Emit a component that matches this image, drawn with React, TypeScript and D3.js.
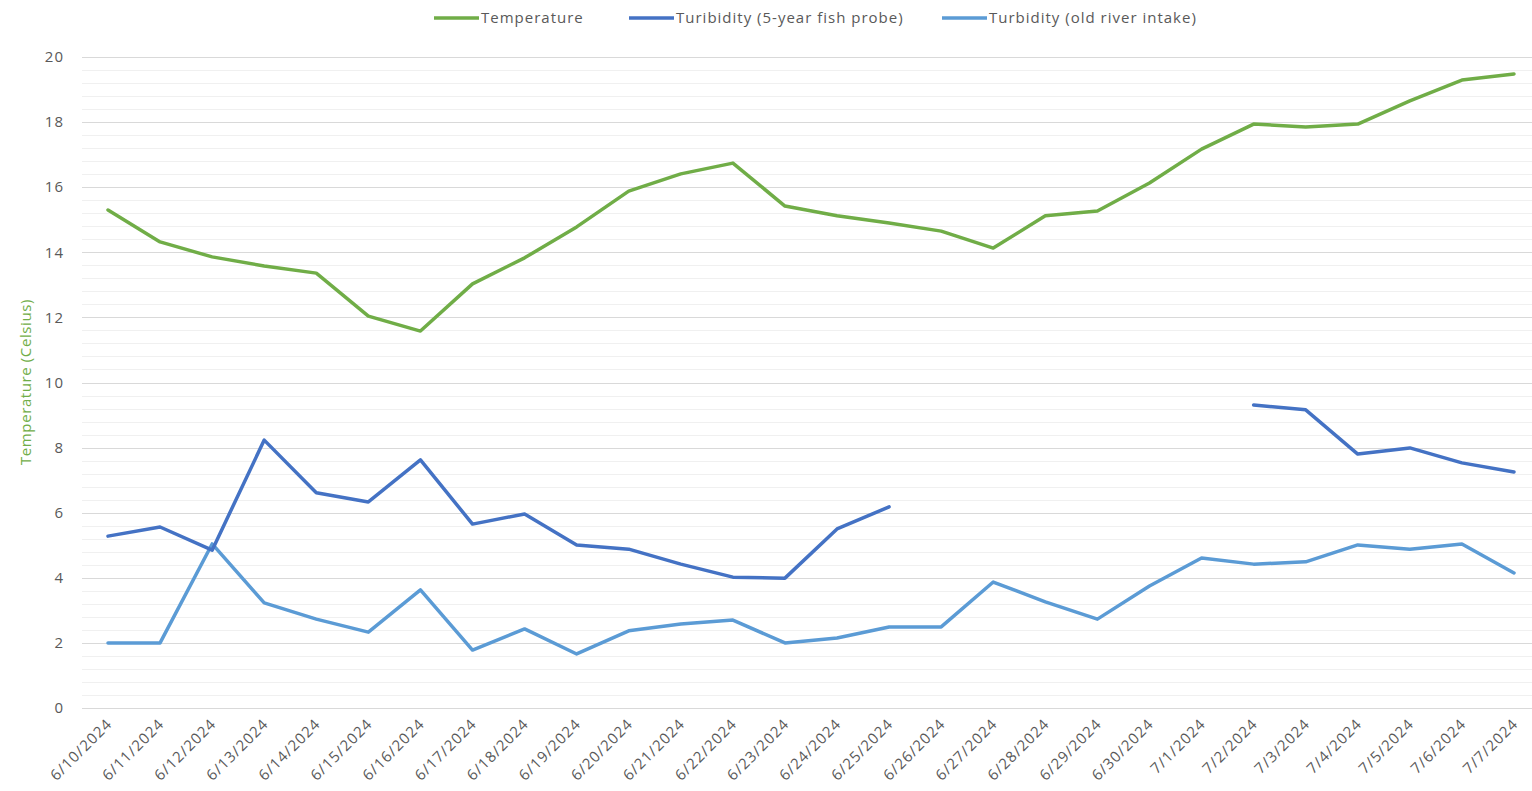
import * as d3 from "d3";
import { useEffect, useRef } from "react";

const dates = [
  "6/10/2024", "6/11/2024", "6/12/2024", "6/13/2024", "6/14/2024", "6/15/2024", "6/16/2024",
  "6/17/2024", "6/18/2024", "6/19/2024", "6/20/2024", "6/21/2024", "6/22/2024", "6/23/2024",
  "6/24/2024", "6/25/2024", "6/26/2024", "6/27/2024", "6/28/2024", "6/29/2024", "6/30/2024",
  "7/1/2024", "7/2/2024", "7/3/2024", "7/4/2024", "7/5/2024", "7/6/2024", "7/7/2024",
];

const temperature = [
  15.3, 14.32, 13.86, 13.58, 13.36, 12.04, 11.58, 13.03, 13.83, 14.78, 15.88, 16.41, 16.74, 15.42,
  15.12, 14.9, 14.65, 14.13, 15.12, 15.27, 16.13, 17.17, 17.94, 17.85, 17.94, 18.65, 19.29, 19.48,
];

const turbidityProbe: (number | null)[] = [
  5.28, 5.56, 4.85, 8.23, 6.61, 6.33, 7.62, 5.65, 5.96, 5.01, 4.88, 4.42, 4.02, 3.99,
  5.5, 6.18, null, null, null, null, null, null, 9.31, 9.16, 7.8, 7.99, 7.53, 7.25,
];

const turbidityIntake = [
  2.0, 2.0, 5.04, 3.23, 2.73, 2.33, 3.63, 1.78, 2.43, 1.66, 2.37, 2.58, 2.7, 2.0,
  2.15, 2.49, 2.49, 3.87, 3.26, 2.73, 3.75, 4.61, 4.42, 4.49, 5.01, 4.88, 5.04, 4.15,
];

const seriesNames = ["Temperature", "Turibidity (5-year fish probe)", "Turbidity (old river intake)"];
const seriesColors = ["#70AD47", "#4472C4", "#5B9BD5"];
const yTicks = [0, 2, 4, 6, 8, 10, 12, 14, 16, 18, 20];

const W = 1532, H = 791;
const FONT = "'Open Sans', Lato, sans-serif";

const App = () => {
  const ref = useRef<SVGSVGElement | null>(null);

  useEffect(() => {
    if (!ref.current) return;
    const svg = d3.select(ref.current);
    svg.selectAll("*").remove();

    const plotLeft = 82, plotRight = 1532;
    const x = d3.scalePoint<string>().domain(dates).range([108, 1514]);
    const y = d3.scaleLinear().domain([0, 20]).range([708, 57]);

    // gridlines: minor every 0.4, major every 2
    const minor = d3.range(0, 20.01, 0.4).filter(v => Math.abs(v / 2 - Math.round(v / 2)) > 0.01);
    svg.append("g").selectAll("line").data(minor).join("line")
      .attr("x1", plotLeft).attr("x2", plotRight)
      .attr("y1", d => Math.round(y(d)) + 0.5).attr("y2", d => Math.round(y(d)) + 0.5)
      .attr("stroke", "#f0f0f0").attr("stroke-width", 1);
    svg.append("g").selectAll("line").data(yTicks).join("line")
      .attr("x1", plotLeft).attr("x2", plotRight)
      .attr("y1", d => Math.round(y(d)) + 0.5).attr("y2", d => Math.round(y(d)) + 0.5)
      .attr("stroke", "#d9d9d9").attr("stroke-width", 1.2);

    // y tick labels
    svg.append("g").selectAll("text").data(yTicks).join("text")
      .attr("x", 64).attr("y", d => y(d)).attr("dy", "0.35em")
      .attr("text-anchor", "end")
      .style("font-family", FONT).style("font-size", "15px").style("letter-spacing", "1px")
      .attr("fill", "#595959")
      .text(d => d);

    // x tick labels
    svg.append("g").selectAll("text").data(dates).join("text")
      .attr("transform", d => `translate(${x(d)! + 5},${725}) rotate(-45)`)
      .attr("text-anchor", "end")
      .style("font-family", FONT).style("font-size", "15px").style("letter-spacing", "1px")
      .attr("fill", "#595959")
      .text(d => d);

    // y axis title
    svg.append("text")
      .attr("transform", `translate(31,382) rotate(-90)`)
      .attr("text-anchor", "middle")
      .style("font-family", FONT).style("font-size", "15px").style("letter-spacing", "0.6px")
      .attr("fill", "#70AD47")
      .text("Temperature (Celsius)");

    const line = d3.line<number | null>()
      .defined(d => d != null)
      .x((_, i) => x(dates[i])!)
      .y(d => y(d as number));

    const allSeries = [turbidityIntake, turbidityProbe, temperature];
    const colorsOrdered = [seriesColors[2], seriesColors[1], seriesColors[0]];
    allSeries.forEach((s, i) => {
      svg.append("path")
        .datum(s as (number | null)[])
        .attr("d", line)
        .attr("fill", "none")
        .attr("stroke", colorsOrdered[i])
        .attr("stroke-width", 3.5)
        .attr("stroke-linejoin", "round")
        .attr("stroke-linecap", "round");
    });

    // legend
    const legendX = [434, 629, 942];
    const legend = svg.append("g");
    seriesNames.forEach((name, i) => {
      legend.append("line")
        .attr("x1", legendX[i]).attr("x2", legendX[i] + 45)
        .attr("y1", 18).attr("y2", 18)
        .attr("stroke", seriesColors[i]).attr("stroke-width", 3.5);
      legend.append("text")
        .attr("x", legendX[i] + 47).attr("y", 18).attr("dy", "0.35em")
        .style("font-family", FONT).style("font-size", "15px").style("letter-spacing", "1px")
        .attr("fill", "#595959")
        .text(name);
    });
  }, []);

  return (
    <svg
      ref={ref}
      width={W}
      height={H}
      style={{ position: "absolute", left: 0, top: 0, background: "#fff" }}
    />
  );
};

export default App;
